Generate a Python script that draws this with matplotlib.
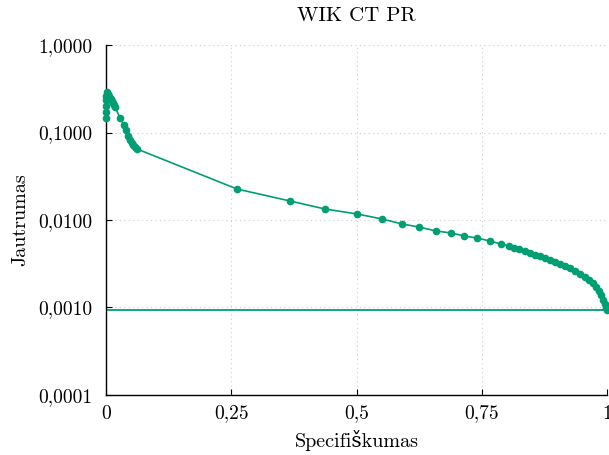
import matplotlib
matplotlib.use("Agg")
import matplotlib.pyplot as plt
from matplotlib.ticker import FixedLocator, NullLocator

plt.rcParams['font.family'] = ['cmr10', 'DejaVu Serif']
plt.rcParams['axes.unicode_minus'] = False

specificity = [0.000, 0.000, 0.000, 0.000, 0.000, 0.002, 0.004, 0.006, 0.008, 0.010,
               0.012, 0.014, 0.016, 0.018, 0.028, 0.036, 0.040, 0.044, 0.048, 0.052,
               0.054, 0.058, 0.062,
               0.2615, 0.367, 0.437, 0.501, 0.551, 0.591, 0.625, 0.659, 0.689, 0.715,
               0.741, 0.766, 0.788, 0.804, 0.814, 0.824, 0.836, 0.846, 0.856, 0.866,
               0.876, 0.886, 0.896, 0.906, 0.916, 0.926, 0.936, 0.946, 0.956, 0.964,
               0.972, 0.978, 0.984, 0.988, 0.992, 0.996, 0.998, 1.000]
sensitivity = [0.1466, 0.1716, 0.201, 0.235, 0.261, 0.290, 0.275, 0.261, 0.248, 0.241,
               0.229, 0.217, 0.206, 0.196, 0.1466, 0.122, 0.107, 0.0912, 0.082, 0.0759,
               0.072, 0.0683, 0.0648,
               0.0226, 0.0165, 0.01336, 0.01172, 0.01026, 0.0090, 0.0083, 0.00748, 0.0071, 0.00656,
               0.00622, 0.00575, 0.00532, 0.00505, 0.00479, 0.00466, 0.00442, 0.0042, 0.00398, 0.00388,
               0.00368, 0.00349, 0.00331, 0.00314, 0.00298, 0.00283, 0.00261, 0.00241, 0.00223, 0.00206,
               0.00191, 0.00172, 0.00155, 0.00139, 0.00122, 0.0011, 0.00099, 0.00094]
baseline = 0.00093

xticks = [0, 0.25, 0.5, 0.75, 1]
xtick_labels = ['0', '0,25', '0,5', '0,75', '1']
yticks = [0.0001, 0.001, 0.01, 0.1, 1]
ytick_labels = ['0,0001', '0,0010', '0,0100', '0,1000', '1,0000']

color = '#009E73'

fig = plt.figure(figsize=(6.09, 4.55), dpi=100)
ax = fig.add_axes([0.174, 0.132, 0.823, 0.769])

ax.plot([0, 1], [baseline, baseline], color=color, lw=1.3, zorder=2)
ax.plot(specificity, sensitivity, color=color, lw=1.2, marker='o', markersize=4.5,
        zorder=3, clip_on=False)

ax.set_yscale('log')
ax.set_xlim(0, 1)
ax.set_ylim(0.0001, 1)
ax.xaxis.set_major_locator(FixedLocator(xticks))
ax.set_xticklabels(xtick_labels)
ax.yaxis.set_major_locator(FixedLocator(yticks))
ax.yaxis.set_minor_locator(NullLocator())
ax.set_yticklabels(ytick_labels)

ax.spines['top'].set_visible(False)
ax.spines['right'].set_visible(False)
ax.spines['left'].set_linewidth(1.0)
ax.spines['bottom'].set_linewidth(1.0)
ax.tick_params(direction='in', length=4, labelsize=14)
ax.tick_params(axis='y', pad=10)
ax.tick_params(axis='x', pad=7)
ax.grid(True, color='#cccccc', linestyle=(0, (1, 3)), linewidth=0.8)
ax.set_axisbelow(True)

ax.set_title('WIK CT PR', fontsize=15, pad=17)
ax.set_xlabel('Specifiškumas', fontsize=14.5, labelpad=5)
ax.set_ylabel('Jautrumas', fontsize=14.5, labelpad=6)

fig.savefig('out.png', dpi=100)
